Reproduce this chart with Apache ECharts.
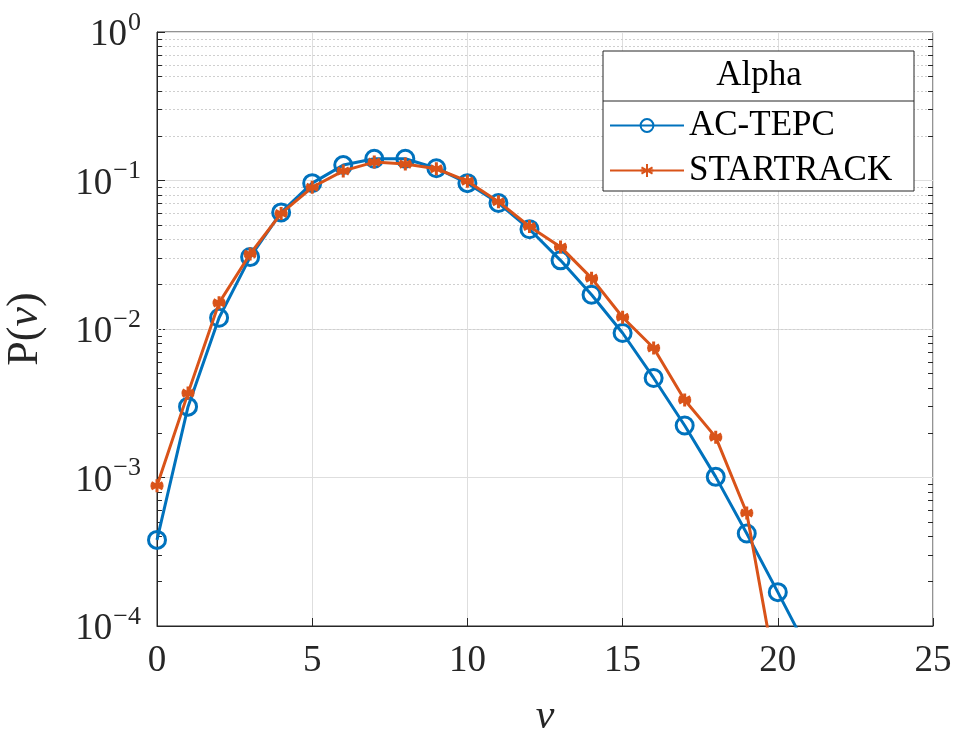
<!DOCTYPE html>
<html>
<head>
<meta charset="utf-8">
<script src="https://cdn.jsdelivr.net/npm/echarts@6/dist/echarts.min.js"></script>
<style>html,body{margin:0;padding:0;background:#fff}#c{width:956px;height:731px}</style>
</head>
<body>
<div id="c"></div>
<script>
const nu = [0,1,2,3,4,5,6,7,8,9,10,11,12,13,14,15,16,17,18,19,20,21];
const acTepc = [3.8e-4,3.0e-3,1.19e-2,3.05e-2,6.1e-2,9.6e-2,0.127,0.140,0.140,0.121,0.096,0.0705,0.047,0.029,0.017,0.0094,0.00468,0.00224,0.00101,4.2e-4,1.69e-4,6.7e-5];
const startrack = [8.8e-4,3.7e-3,1.5e-2,3.2e-2,6.0e-2,9.0e-2,0.116,0.133,0.129,0.120,0.099,0.072,0.049,0.0357,0.022,0.0120,0.00745,0.00333,0.00187,5.77e-4,4.0e-5,null];
const decades = [-4,-3,-2,-1];
const minorMantissas = [2,3,4,5,6,7,8,9];
const legendTitle = 'Alpha';
const seriesNames = ['AC-TEPC','STARTRACK'];

const FONT = 'Liberation Serif';
const chart = echarts.init(document.getElementById('c'));
const blue = '#0072BD', orange = '#D95319';
const asterisk = 'path://M0,-10L0,10M-8.66,-5L8.66,5M-8.66,5L8.66,-5M-10,0L10,0';

const minorVals = [];
decades.forEach(e => minorMantissas.forEach(m => minorVals.push(m * Math.pow(10, e))));
const minorGrid = minorVals.map(v => ({yAxis: v}));
const minorTicks = [];
minorVals.forEach(v => {
  minorTicks.push([{coord: [0, v]}, {coord: [0.16, v]}]);
  minorTicks.push([{coord: [24.84, v]}, {coord: [25, v]}]);
});

chart.setOption({
  animation: false,
  grid: {left: 157, top: 32, right: 23, bottom: 105, outerBoundsMode: 'none', containLabel: false,
    show: true, borderColor: '#262626', borderWidth: 1, backgroundColor: 'transparent'},
  xAxis: {
    type: 'value', min: 0, max: 25, interval: 5,
    name: '{i|ν}', nameLocation: 'middle', nameGap: 70,
    nameTextStyle: {rich: {i: {fontFamily: FONT, fontStyle: 'italic', fontSize: 42, color: '#262626'}}},
    axisLine: {lineStyle: {color: '#262626', width: 1}},
    axisTick: {inside: true, length: 8, lineStyle: {color: '#262626'}},
    axisLabel: {fontFamily: FONT, fontSize: 37, color: '#262626', margin: 17},
    splitLine: {show: true, lineStyle: {color: '#dedede', width: 1}}
  },
  yAxis: {
    type: 'log', logBase: 10, min: 1e-4, max: 1,
    name: '{a|P(}{i|ν}{a|)}', nameLocation: 'middle', nameGap: 110, nameRotate: 90,
    nameTextStyle: {rich: {a: {fontFamily: FONT, fontSize: 44, color: '#262626'}, i: {fontFamily: FONT, fontStyle: 'italic', fontSize: 44, color: '#262626'}}},
    axisLine: {show: true, lineStyle: {color: '#262626', width: 1}},
    axisTick: {inside: true, length: 8, lineStyle: {color: '#262626'}},
    axisLabel: {
      margin: 16,
      formatter: function (v) {
        const e = Math.round(Math.log10(v));
        return '{b|10}{s|' + (e === 0 ? '0' : '−' + (-e)) + '}';
      },
      rich: {
        b: {fontFamily: FONT, fontSize: 37, color: '#262626', verticalAlign: 'bottom', lineHeight: 44},
        s: {fontFamily: FONT, fontSize: 26, color: '#262626', verticalAlign: 'top', lineHeight: 44, padding: [0, 0, 0, 1]}
      }
    },
    splitLine: {show: true, lineStyle: {color: '#dedede', width: 1}}
  },
  legend: {
    orient: 'vertical', left: 609, top: 108, itemWidth: 74, itemHeight: 16, itemGap: 10,
    padding: 0, z: 200,
    textStyle: {fontFamily: FONT, fontSize: 35, color: '#000'},
    data: seriesNames
  },
  graphic: [
    {type: 'rect', z: 99, shape: {x: 603, y: 51, width: 311, height: 140}, style: {fill: '#fff', stroke: '#262626', lineWidth: 1}},
    {type: 'line', z: 100, shape: {x1: 603, y1: 101, x2: 914, y2: 101}, style: {stroke: '#262626', lineWidth: 1}},
    {type: 'text', z: 100, x: 759, y: 76, style: {text: legendTitle, font: '35px "Liberation Serif"', fill: '#000', textAlign: 'center', textVerticalAlign: 'middle'}}
  ],
  series: [
    {
      name: 'minorGrid', type: 'line', data: [], z: 1, silent: true,
      markLine: {silent: true, symbol: 'none', label: {show: false}, animation: false,
        lineStyle: {color: '#cfcfcf', type: [2, 2], width: 1}, data: minorGrid}
    },
    {
      name: 'minorTicks', type: 'line', data: [], z: 2, silent: true,
      markLine: {silent: true, symbol: 'none', label: {show: false}, animation: false,
        lineStyle: {color: '#262626', type: 'solid', width: 1}, data: minorTicks}
    },
    {
      name: seriesNames[0], type: 'line', z: 5,
      data: nu.map((x, i) => [x, acTepc[i]]),
      lineStyle: {color: blue, width: 3},
      itemStyle: {color: 'rgba(0,0,0,0)', borderColor: blue, borderWidth: 3},
      symbol: 'circle', symbolSize: 17, showAllSymbol: true,
      clip: true
    },
    {
      name: seriesNames[1], type: 'line', z: 6,
      data: nu.map((x, i) => [x, startrack[i]]).filter(d => d[1] !== null),
      lineStyle: {color: orange, width: 3},
      itemStyle: {color: orange, borderColor: orange, borderWidth: 3},
      symbol: asterisk, symbolSize: 13, showAllSymbol: true,
      clip: true
    }
  ]
});
</script>
</body>
</html>
